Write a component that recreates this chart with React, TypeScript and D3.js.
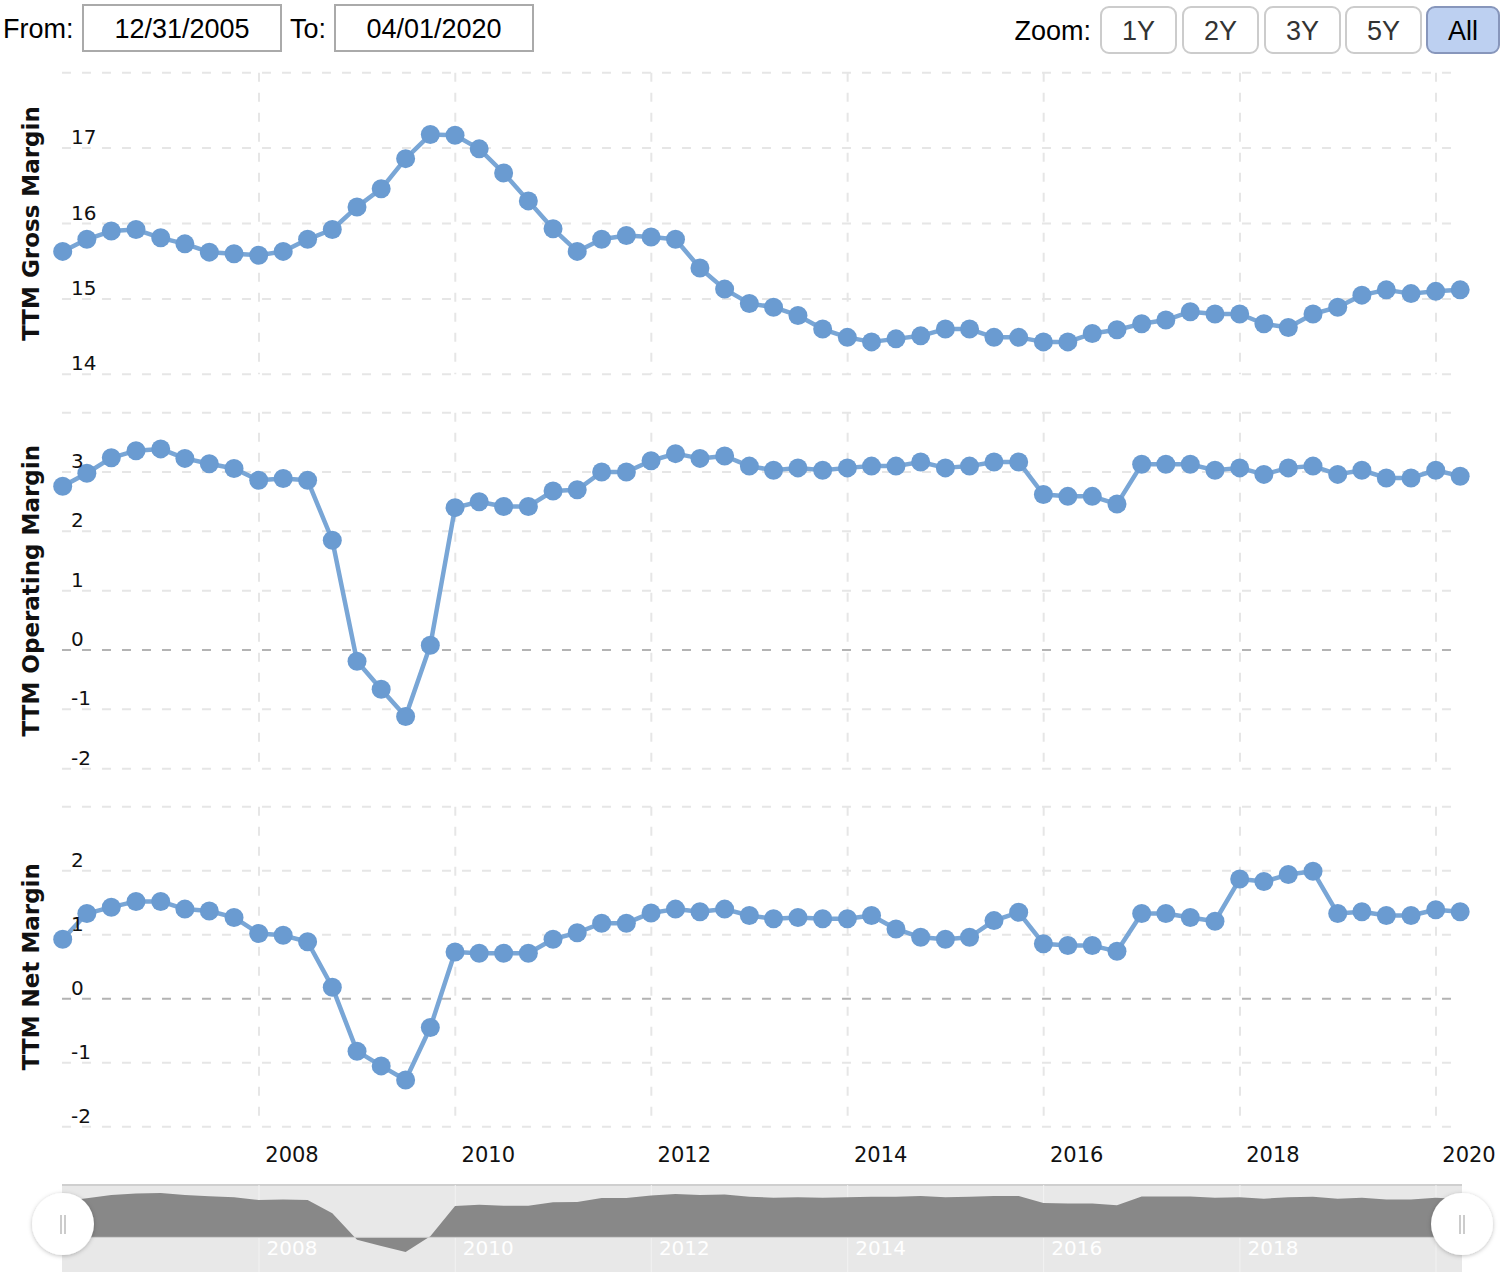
import * as d3 from "d3";
import React from "react";

// quarter-end dates
const dates = [
  "2005-12-31",
  "2006-03-31", "2006-06-30", "2006-09-30", "2006-12-31",
  "2007-03-31", "2007-06-30", "2007-09-30", "2007-12-31",
  "2008-03-31", "2008-06-30", "2008-09-30", "2008-12-31",
  "2009-03-31", "2009-06-30", "2009-09-30", "2009-12-31",
  "2010-03-31", "2010-06-30", "2010-09-30", "2010-12-31",
  "2011-03-31", "2011-06-30", "2011-09-30", "2011-12-31",
  "2012-03-31", "2012-06-30", "2012-09-30", "2012-12-31",
  "2013-03-31", "2013-06-30", "2013-09-30", "2013-12-31",
  "2014-03-31", "2014-06-30", "2014-09-30", "2014-12-31",
  "2015-03-31", "2015-06-30", "2015-09-30", "2015-12-31",
  "2016-03-31", "2016-06-30", "2016-09-30", "2016-12-31",
  "2017-03-31", "2017-06-30", "2017-09-30", "2017-12-31",
  "2018-03-31", "2018-06-30", "2018-09-30", "2018-12-31",
  "2019-03-31", "2019-06-30", "2019-09-30", "2019-12-31",
  "2020-03-31",
];

const grossMargin = [
  15.63, 15.79, 15.9, 15.92, 15.81, 15.73, 15.62, 15.6, 15.58, 15.63,
  15.79, 15.92, 16.22, 16.46, 16.86, 17.18, 17.17, 16.99, 16.67, 16.3,
  15.93, 15.63, 15.79, 15.84, 15.82, 15.79, 15.41, 15.13, 14.94, 14.89,
  14.78, 14.6, 14.49, 14.43, 14.47, 14.51, 14.6, 14.6, 14.49, 14.49,
  14.43, 14.43, 14.54, 14.59, 14.67, 14.72, 14.83, 14.8, 14.8, 14.67,
  14.62, 14.8, 14.89, 15.05, 15.12, 15.07, 15.1, 15.12,
];

const operatingMargin = [
  2.76, 2.98, 3.24, 3.36, 3.39, 3.23, 3.14, 3.06, 2.86, 2.89,
  2.86, 1.85, -0.19, -0.66, -1.12, 0.08, 2.4, 2.5, 2.42, 2.42,
  2.68, 2.7, 3.0, 3.0, 3.19, 3.31, 3.23, 3.27, 3.1, 3.03,
  3.07, 3.03, 3.07, 3.1, 3.1, 3.17, 3.07, 3.1, 3.17, 3.17,
  2.62, 2.59, 2.59, 2.46, 3.13, 3.13, 3.13, 3.03, 3.07, 2.96,
  3.07, 3.1, 2.96, 3.03, 2.9, 2.9, 3.03, 2.93,
];

const netMargin = [
  0.93, 1.33, 1.43, 1.52, 1.52, 1.4, 1.37, 1.27, 1.02, 0.99,
  0.89, 0.18, -0.82, -1.05, -1.27, -0.45, 0.73, 0.71, 0.71, 0.71,
  0.93, 1.03, 1.18, 1.18, 1.34, 1.4, 1.36, 1.4, 1.3, 1.25,
  1.27, 1.25, 1.25, 1.3, 1.09, 0.96, 0.93, 0.96, 1.22, 1.35,
  0.86, 0.83, 0.83, 0.74, 1.33, 1.33, 1.27, 1.21, 1.87, 1.83,
  1.94, 1.99, 1.33, 1.36, 1.3, 1.3, 1.39, 1.36,
];

const yearTicks = [2008, 2010, 2012, 2014, 2016, 2018, 2020];
const grossTicks = [14, 15, 16, 17, 18];
const operatingTicks = [-2, -1, 0, 1, 2, 3, 4];
const netTicks = [-2, -1, 0, 1, 2, 3];
const zoomButtons = ["1Y", "2Y", "3Y", "5Y", "All"];

const W = 1504;
const H = 1272;
const left = 62;
const gridRight = 1452;
const lineColor = "#79a6d6";
const markerColor = "#6a9bd1";
const gridColor = "#e6e6e6";
const tickFont = "DejaVu Sans, Verdana, sans-serif";
const uiFont = "Liberation Sans, Arial, Helvetica, sans-serif";

const parsed = dates.map((d) => d3.utcParse("%Y-%m-%d")(d) as Date);

const x = d3
  .scaleUtc()
  .domain([new Date(Date.UTC(2008, 0, 1)), new Date(Date.UTC(2020, 0, 1))])
  .range([259, 1436]);

const panels = [
  { title: "TTM Gross Margin", values: grossMargin, ticks: grossTicks, top: 72.7, bottom: 374.3, zero: false },
  { title: "TTM Operating Margin", values: operatingMargin, ticks: operatingTicks, top: 412.7, bottom: 768.7, zero: true },
  { title: "TTM Net Margin", values: netMargin, ticks: netTicks, top: 806.7, bottom: 1126.7, zero: true },
];

const Panel = ({ p }) => {
  const y = d3
    .scaleLinear()
    .domain([p.ticks[0], p.ticks[p.ticks.length - 1]])
    .range([p.bottom, p.top]);
  const line = d3
    .line<number>()
    .x((_, i) => x(parsed[i]))
    .y((d) => y(d));
  const mid = (p.top + p.bottom) / 2;
  return (
    <g>
      {yearTicks.map((yr) => {
        const gx = x(new Date(Date.UTC(yr, 0, 1)));
        return (
          <line key={yr} x1={gx} x2={gx} y1={p.top} y2={p.bottom}
            stroke={gridColor} strokeWidth={2} strokeDasharray="9,11" />
        );
      })}
      {p.ticks.map((t) => (
        <line key={t} x1={left} x2={gridRight} y1={y(t)} y2={y(t)}
          stroke={t === 0 && p.zero ? "#b3b3b3" : gridColor}
          strokeWidth={2} strokeDasharray="9,11" />
      ))}
      <path d={line(p.values) as string} fill="none" stroke={lineColor} strokeWidth={4.5} strokeLinejoin="round" />
      {p.values.map((v, i) => (
        <circle key={i} cx={x(parsed[i])} cy={y(v)} r={9.5} fill={markerColor} />
      ))}
      {p.ticks.slice(0, -1).map((t) => (
        <text key={t} x={71} y={y(t) - 4} fontFamily={tickFont} fontSize={20} fill="#111">
          {t}
        </text>
      ))}
      <text transform={`translate(38.5, ${mid}) rotate(-90)`} textAnchor="middle"
        fontFamily={tickFont} fontWeight="bold" fontSize={23} fill="#111">
        {p.title}
      </text>
    </g>
  );
};

const Navigator = () => {
  const top = 1185;
  const ny = d3
    .scaleLinear()
    .domain([d3.min(operatingMargin) as number, d3.max(operatingMargin) as number])
    .range([1252, 1193]);
  const area = d3
    .area<number>()
    .x((_, i) => x(parsed[i]))
    .y0(ny(0))
    .y1((d) => ny(d));
  return (
    <g>
      <rect x={left} y={top} width={1462 - left} height={H - top} fill="#e8e8e8" />
      <line x1={left} x2={1462} y1={top} y2={top} stroke="#cfcfcf" strokeWidth={2} />
      {yearTicks.map((yr) => {
        const gx = x(new Date(Date.UTC(yr, 0, 1)));
        return <line key={yr} x1={gx} x2={gx} y1={top} y2={H} stroke="#f2f2f2" strokeWidth={1} />;
      })}
      <path d={area(operatingMargin) as string} fill="#888" />
      <line x1={left} x2={1462} y1={ny(0)} y2={ny(0)} stroke="#d0d0d0" strokeWidth={1} />
      {yearTicks.slice(0, -1).map((yr) => (
        <text key={yr} x={x(new Date(Date.UTC(yr, 0, 1))) + 33} y={1255} textAnchor="middle"
          fontFamily={tickFont} fontSize={20} fill="#fff">
          {yr}
        </text>
      ))}
      {[63, 1462].map((hx) => (
        <g key={hx}>
          <circle cx={hx} cy={1224} r={31} fill="#fff" filter="url(#shadow)" />
          <line x1={hx - 2} x2={hx - 2} y1={1215} y2={1234} stroke="#999" strokeWidth={1} />
          <line x1={hx + 2} x2={hx + 2} y1={1215} y2={1234} stroke="#999" strokeWidth={1} />
        </g>
      ))}
    </g>
  );
};

const Controls = () => {
  const btnX = [1101, 1183, 1265, 1346, 1427];
  const btnW = [75, 75, 75, 75, 72];
  return (
    <g fontFamily={uiFont}>
      <text x={3} y={38} fontSize={27} fill="#000">From:</text>
      <rect x={83} y={5} width={198} height={46} fill="#fff" stroke="#aaa" strokeWidth={2} />
      <text x={182} y={38} fontSize={27} textAnchor="middle" fill="#000">12/31/2005</text>
      <text x={290} y={38} fontSize={27} fill="#000">To:</text>
      <rect x={335} y={5} width={198} height={46} fill="#fff" stroke="#aaa" strokeWidth={2} />
      <text x={434} y={38} fontSize={27} textAnchor="middle" fill="#000">04/01/2020</text>
      <text x={1091} y={40} fontSize={27} textAnchor="end" fill="#000">Zoom:</text>
      {zoomButtons.map((b, i) => {
        const active = b === "All";
        return (
          <g key={b}>
            <rect x={btnX[i]} y={7} width={btnW[i]} height={46} rx={8}
              fill={active ? "#bdd0f1" : "#fff"} stroke={active ? "#8796bb" : "#ccc"} strokeWidth={2} />
            <text x={btnX[i] + btnW[i] / 2} y={40} textAnchor="middle" fontSize={27}
              fill={active ? "#000" : "#333"}>
              {b}
            </text>
          </g>
        );
      })}
    </g>
  );
};

export default function App() {
  return (
    <svg width={W} height={H} style={{ position: "absolute", left: 0, top: 0, background: "#fff" }}>
      <defs>
        <filter id="shadow" x="-30%" y="-30%" width="160%" height="160%">
          <feDropShadow dx={0} dy={1} stdDeviation={2} floodColor="#000" floodOpacity={0.25} />
        </filter>
      </defs>
      <rect width={W} height={H} fill="#fff" />
      <Controls />
      {panels.map((p) => (
        <Panel key={p.title} p={p} />
      ))}
      {yearTicks.map((yr) => (
        <text key={yr} x={x(new Date(Date.UTC(yr, 0, 1))) + 33} y={1162} textAnchor="middle"
          fontFamily={tickFont} fontSize={21} fill="#111">
          {yr}
        </text>
      ))}
      <Navigator />
    </svg>
  );
}
